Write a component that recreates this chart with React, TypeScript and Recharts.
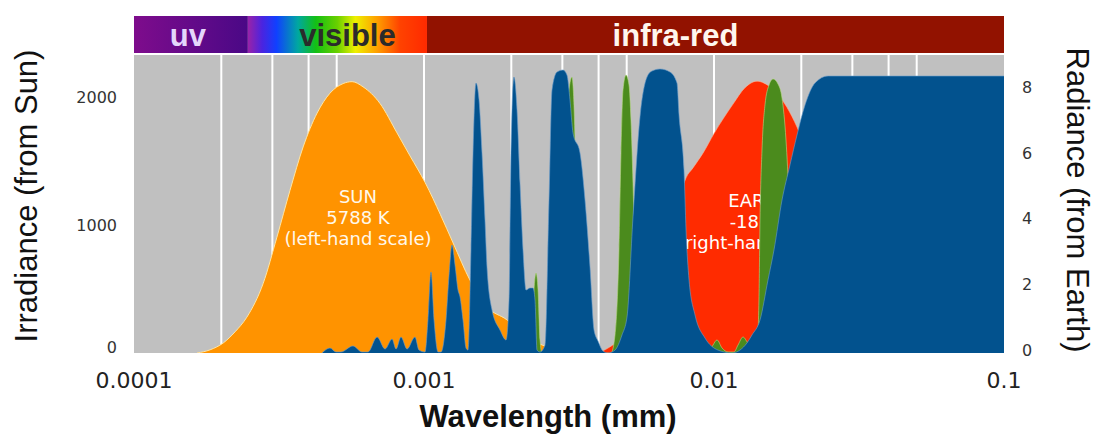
import React from 'react';
import {
  ComposedChart,
  Area,
  XAxis,
  YAxis,
  ReferenceArea,
  ReferenceLine,
  ReferenceDot,
} from 'recharts';

// wavelengths in mm
const sunWavelengths = [
  0.000165, 0.000183, 0.000203, 0.000223, 0.000245, 0.000279, 0.000311, 0.000345, 0.000383, 0.000428,
  0.000474, 0.000526, 0.000565, 0.000616, 0.000705, 0.000807, 0.000895, 0.00101, 0.00114, 0.00126,
  0.00144, 0.00165, 0.00193, 0.00227, 0.00266, 0.00332, 0.00404, 0.00602, 0.01, 0.0198,
];
const sunIrradiance = [
  0, 25, 78, 165, 280, 545, 905, 1270, 1610, 1875,
  2030, 2105, 2120, 2080, 1950, 1720, 1540, 1330, 1080, 860,
  570, 360, 260, 125, 50, 25, 15, 6, 2, 0,
];

const earthWavelengths = [
  0.00398, 0.00431, 0.00474, 0.00556, 0.00651, 0.00763, 0.00801, 0.00846, 0.00916, 0.01,
  0.01163, 0.01279, 0.01407, 0.01548, 0.01785, 0.01933, 0.02143, 0.02944, 0.04379, 0.1,
];
const earthRadiance = [
  0, 0.15, 0.46, 1.9, 3.45, 4.8, 5.35, 5.65, 6.1, 6.7,
  7.6, 8.1, 8.3, 8.15, 7.5, 6.9, 5.9, 3.75, 1.9, 0.7,
];

// absorption bands (blue)
const blueWavelengths = [
  0.000445, 0.000474, 0.000497, 0.000517, 0.000569, 0.000611, 0.000641, 0.000689, 0.000734, 0.000776,
  0.000801, 0.000833, 0.000874, 0.000931, 0.000961, 0.001008, 0.001032, 0.001057, 0.001083, 0.001118,
  0.001145, 0.001191, 0.00122, 0.001249, 0.001279, 0.00131, 0.001331, 0.001363, 0.001396, 0.001418,
  0.001452, 0.001476, 0.001511, 0.001548, 0.001585, 0.001623, 0.001649, 0.001716, 0.001828, 0.001918,
  0.001964, 0.001995, 0.002043, 0.002093, 0.002143, 0.002195, 0.002248, 0.00232, 0.002376, 0.002414,
  0.002453, 0.002512, 0.002614, 0.002698, 0.002763, 0.002875, 0.003015, 0.003112, 0.003187, 0.003264,
  0.003451, 0.003591, 0.003736, 0.003857, 0.003981, 0.004142, 0.004311, 0.004557, 0.004816, 0.005012,
  0.005256, 0.005556, 0.005874, 0.006112, 0.006513, 0.007052, 0.007454, 0.007575, 0.007881, 0.008008,
  0.008202, 0.0086, 0.00931, 0.01032, 0.01153, 0.01229, 0.01299, 0.01352, 0.01441, 0.01535,
  0.0161, 0.01716, 0.01828, 0.01933, 0.0206, 0.0223, 0.02473, 0.1,
];
const blueLevels = [
  0, 39, 8, 8, 55, 8, 8, 125, 31, 109,
  31, 125, 31, 125, 23, 8, 258, 633, 258, 8,
  8, 258, 609, 844, 688, 492, 438, 258, 39, 23,
  805, 1563, 2109, 1977, 1563, 1039, 672, 336, 180, 102,
  414, 1563, 2156, 1898, 1328, 805, 492, 508, 508, 414,
  23, 8, 62, 1195, 2055, 2195, 2211, 2172, 1977, 1719,
  1563, 1195, 672, 180, 94, 16, 0, 23, 141, 281,
  1063, 1844, 2156, 2203, 2219, 2195, 2109, 1859, 1430, 961,
  570, 297, 117, 23, 0, 23, 78, 141, 258, 570,
  805, 1195, 1469, 1703, 1938, 2109, 2164, 2164,
];

// absorption bands (green)
const greenWavelengths = [
  0.002339, 0.002434, 0.002473, 0.002512, 0.002552, 0.002991, 0.003088, 0.003162, 0.003238, 0.003264,
  0.003317, 0.00337, 0.003424, 0.004414, 0.004557, 0.004702, 0.004778, 0.004855, 0.004972, 0.005093,
  0.005173, 0.005256, 0.005384, 0.00547, 0.009536, 0.00992, 0.01024, 0.01066, 0.01118, 0.01172,
  0.0121, 0.01259, 0.0131, 0.01352, 0.01407, 0.01429, 0.01441, 0.01464, 0.01499, 0.01548,
  0.01598, 0.01662, 0.01716, 0.01771, 0.01814, 0.01843, 0.01872,
];
const greenLevels = [
  0, 625, 492, 102, 0, 0, 1195, 2055, 2156, 2094,
  1664, 805, 0, 0, 141, 805, 1563, 2055, 2172, 2094,
  1820, 1328, 414, 0, 0, 62, 102, 39, 8, 8,
  62, 125, 78, 62, 62, 414, 1039, 1586, 1938, 2094,
  2141, 2102, 1992, 1664, 1195, 727, 0,
];

const xTicks = [0.0001, 0.001, 0.01, 0.1];
const leftTicks = [0, 1000, 2000];
const rightTicks = [0, 2, 4, 6, 8];
const gridWavelengths = [
  0.0002, 0.0003, 0.0004, 0.0005, 0.001, 0.002, 0.003, 0.004, 0.005,
  0.01, 0.02, 0.03, 0.04, 0.05,
];
const bandNames = ['uv', 'visible', 'infra-red'];
const bandEdges = [0.0001, 0.000247, 0.001024, 0.1];

const LEFT_MAX = 2633;
const RIGHT_MAX = 10.29;
const GRAY_TOP = 2328;
const BANNER_BOTTOM = 2344;

const BLUE = '#02528e';
const GREEN = '#4b8b1d';
const RED = '#ff2b00';
const ORANGE = '#ff9300';
const GRAY = '#c0c0c0';

const zip = (xs: number[], ys: number[]) => xs.map((w, i) => ({ w, v: ys[i] }));
const sunData = zip(sunWavelengths, sunIrradiance);
const earthData = zip(earthWavelengths, earthRadiance);
const blueData = zip(blueWavelengths, blueLevels);
const greenData = zip(greenWavelengths, greenLevels);

const bandFills = ['url(#uvGrad)', 'url(#visGrad)', '#921200'];
const bandTextColors = ['#e4d6fb', '#2b2b2b', '#fff6ee'];
const bandTextShift = [-3, 10, -40];

const tickFont = '"DejaVu Sans", sans-serif';

const XTick = (props: any) => {
  const { x, y, payload } = props;
  return (
    <text x={x} y={y + 27} textAnchor="middle" dominantBaseline="central" fontSize={22} fontFamily={tickFont} fill="#222">
      {String(payload.value)}
    </text>
  );
};

const LeftTick = (props: any) => {
  const { x, y, payload } = props;
  return (
    <text x={x - 17} y={y + (payload.value === 0 ? -6 : 0)} textAnchor="end" dominantBaseline="central" fontSize={16} fontFamily={tickFont} fill="#333">
      {payload.value}
    </text>
  );
};

const RightTick = (props: any) => {
  const { x, y, payload } = props;
  return (
    <text x={x + 18} y={y - 3} textAnchor="start" dominantBaseline="central" fontSize={16} fontFamily={tickFont} fill="#333">
      {payload.value}
    </text>
  );
};

const BannerText = (props: any) => {
  const { viewBox, text, color, shift } = props;
  if (!viewBox) return null;
  return (
    <text
      x={viewBox.x + viewBox.width / 2 + shift}
      y={viewBox.y + viewBox.height / 2 + 1}
      textAnchor="middle"
      dominantBaseline="central"
      fontSize={31}
      fontWeight="bold"
      fontFamily='"Liberation Sans", Arial, sans-serif'
      fill={color}
    >
      {text}
    </text>
  );
};

const blockText = (lines: string[], color: string) => (props: any) => {
  const { cx, cy } = props;
  return (
    <g>
      {lines.map((t, i) => (
        <text
          key={t}
          x={cx}
          y={cy + (i - 1) * 21}
          textAnchor="middle"
          dominantBaseline="central"
          fontSize={18}
          fontFamily={tickFont}
          fill={color}
        >
          {t}
        </text>
      ))}
    </g>
  );
};

export default function App() {
  return (
    <div
      style={{
        position: 'absolute',
        left: 0,
        top: 0,
        width: 1094,
        height: 437,
        background: '#fff',
        fontFamily: '"Liberation Sans", Arial, sans-serif',
        overflow: 'hidden',
      }}
    >
      <ComposedChart width={1094} height={437} margin={{ top: 16, right: 30, bottom: 54, left: 74 }}>
        <defs>
          <linearGradient id="uvGrad" x1="0" y1="0" x2="1" y2="0">
            <stop offset="0%" stopColor="#7e0c8c" />
            <stop offset="100%" stopColor="#4a0886" />
          </linearGradient>
          <linearGradient id="visGrad" x1="0" y1="0" x2="1" y2="0">
            <stop offset="0%" stopColor="#9a22a8" />
            <stop offset="8%" stopColor="#4a24e0" />
            <stop offset="16%" stopColor="#1040ff" />
            <stop offset="28%" stopColor="#00a8a0" />
            <stop offset="38%" stopColor="#14c014" />
            <stop offset="50%" stopColor="#6ad000" />
            <stop offset="60%" stopColor="#eef000" />
            <stop offset="72%" stopColor="#ffa000" />
            <stop offset="85%" stopColor="#ff4200" />
            <stop offset="100%" stopColor="#ff2a00" />
          </linearGradient>
        </defs>
        <XAxis
          dataKey="w"
          type="number"
          scale="log"
          domain={[0.0001, 0.1]}
          allowDataOverflow
          ticks={xTicks}
          interval={0}
          tick={<XTick />}
          tickLine={false}
          axisLine={false}
          tickSize={0}
          tickMargin={0}
          height={30}
        />
        <YAxis
          yAxisId="left"
          domain={[0, LEFT_MAX]}
          allowDataOverflow
          ticks={leftTicks}
          interval={0}
          tick={<LeftTick />}
          tickLine={false}
          axisLine={false}
          tickSize={0}
          tickMargin={0}
          width={60}
        />
        <YAxis
          yAxisId="right"
          orientation="right"
          domain={[0, RIGHT_MAX]}
          allowDataOverflow
          ticks={rightTicks}
          interval={0}
          tick={<RightTick />}
          tickLine={false}
          axisLine={false}
          tickSize={0}
          tickMargin={0}
          width={60}
        />

        <ReferenceArea
          yAxisId="left"
          x1={0.0001}
          x2={0.1}
          y1={0}
          y2={GRAY_TOP}
          fill={GRAY}
          fillOpacity={1}
          stroke="none"
          zIndex={-60}
        />
        {gridWavelengths.map((g) => (
          <ReferenceLine
            key={g}
            yAxisId="left"
            segment={[{ x: g, y: 0 }, { x: g, y: GRAY_TOP }]}
            stroke="#ffffff"
            strokeWidth={2}
            zIndex={-50}
          />
        ))}
        {bandNames.map((name, i) => (
          <ReferenceArea
            key={name}
            yAxisId="left"
            x1={bandEdges[i]}
            x2={bandEdges[i + 1]}
            y1={BANNER_BOTTOM}
            y2={LEFT_MAX}
            fill={bandFills[i]}
            fillOpacity={1}
            stroke="none"
            zIndex={-40}
            label={<BannerText text={name} color={bandTextColors[i]} shift={bandTextShift[i]} />}
          />
        ))}

        <Area
          yAxisId="left"
          data={sunData}
          dataKey="v"
          type="monotone"
          fill={ORANGE}
          fillOpacity={1}
          stroke="#ffe6a2"
          strokeWidth={1}
          dot={false}
          activeDot={false}
          isAnimationActive={false}
          zIndex={101}
        />
        <Area
          yAxisId="right"
          data={earthData}
          dataKey="v"
          type="monotone"
          fill={RED}
          fillOpacity={1}
          stroke="#ffb494"
          strokeWidth={0.6}
          dot={false}
          activeDot={false}
          isAnimationActive={false}
          zIndex={102}
        />
        <ReferenceDot
          yAxisId="right"
          x={0.01418}
          y={4}
          r={0}
          zIndex={103}
          shape={blockText(['EARTH', '-18 °C', '(right-hand scale)'], '#ffffff')}
        />
        <Area
          yAxisId="left"
          data={greenData}
          dataKey="v"
          type="monotone"
          fill={GREEN}
          fillOpacity={1}
          stroke="#b8d884"
          strokeWidth={0.6}
          dot={false}
          activeDot={false}
          isAnimationActive={false}
          zIndex={104}
        />
        <Area
          yAxisId="left"
          data={blueData}
          dataKey="v"
          type="monotone"
          fill={BLUE}
          fillOpacity={1}
          stroke="#6a9ccb"
          strokeWidth={0.6}
          dot={false}
          activeDot={false}
          isAnimationActive={false}
          zIndex={105}
        />
        <ReferenceDot
          yAxisId="left"
          x={0.000592}
          y={1062}
          r={0}
          zIndex={106}
          shape={blockText(['SUN', '5788 K', '(left-hand scale)'], '#fff8ea')}
        />
      </ComposedChart>

      <div
        style={{
          position: 'absolute',
          left: 27,
          top: 196,
          transform: 'translate(-50%, -50%) rotate(-90deg)',
          fontSize: 31,
          whiteSpace: 'nowrap',
          color: '#111',
        }}
      >
        Irradiance (from Sun)
      </div>
      <div
        style={{
          position: 'absolute',
          left: 1077,
          top: 200,
          transform: 'translate(-50%, -50%) rotate(90deg)',
          fontSize: 31,
          whiteSpace: 'nowrap',
          color: '#111',
        }}
      >
        Radiance (from Earth)
      </div>
      <div
        style={{
          position: 'absolute',
          left: 548,
          top: 417,
          transform: 'translate(-50%, -50%)',
          fontSize: 31,
          fontWeight: 'bold',
          whiteSpace: 'nowrap',
          color: '#111',
          lineHeight: 1.1,
        }}
      >
        Wavelength (mm)
      </div>
    </div>
  );
}
